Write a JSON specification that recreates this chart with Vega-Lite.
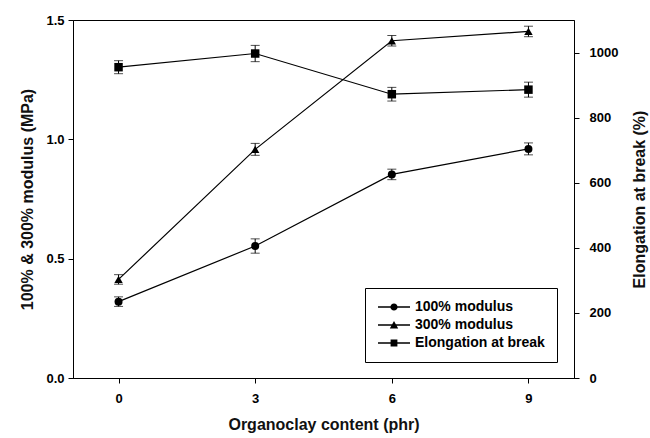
{
  "$schema": "https://vega.github.io/schema/vega-lite/v6.json",
  "width": 501,
  "height": 358,
  "autosize": {"type": "none"},
  "padding": {"left": 73, "top": 20, "right": 76, "bottom": 60},
  "background": "white",
  "datasets": {
    "modulus": [
      {"x": 0, "series": "100% modulus", "v": 0.32, "err": 0.02},
      {"x": 3, "series": "100% modulus", "v": 0.553, "err": 0.03},
      {"x": 6, "series": "100% modulus", "v": 0.853, "err": 0.022},
      {"x": 9, "series": "100% modulus", "v": 0.96, "err": 0.025},
      {"x": 0, "series": "300% modulus", "v": 0.413, "err": 0.02},
      {"x": 3, "series": "300% modulus", "v": 0.958, "err": 0.025},
      {"x": 6, "series": "300% modulus", "v": 1.413, "err": 0.022},
      {"x": 9, "series": "300% modulus", "v": 1.452, "err": 0.022}
    ],
    "elong": [
      {"x": 0, "series": "Elongation at break", "v": 955, "err": 20},
      {"x": 3, "series": "Elongation at break", "v": 997, "err": 25},
      {"x": 6, "series": "Elongation at break", "v": 872, "err": 21},
      {"x": 9, "series": "Elongation at break", "v": 886, "err": 23}
    ]
  },
  "config": {
    "font": "Liberation Sans",
    "view": {"stroke": "black", "strokeWidth": 1},
    "axis": {
      "grid": false,
      "domainColor": "black",
      "tickColor": "black",
      "tickSize": 5,
      "labelFont": "Liberation Sans",
      "labelFontSize": 13,
      "labelFontWeight": "bold",
      "labelColor": "black",
      "titleFont": "Liberation Sans",
      "titleFontSize": 16,
      "titleFontWeight": "bold",
      "titleColor": "#111"
    }
  },
  "encoding": {
    "x": {
      "field": "x",
      "type": "quantitative",
      "scale": {"domain": [-1, 10], "nice": false, "zero": false},
      "axis": {"values": [0, 3, 6, 9], "title": "Organoclay content (phr)", "labelPadding": 9, "titlePadding": 11}
    }
  },
  "layer": [
    {
      "data": {"name": "modulus"},
      "layer": [
        {
          "mark": {"type": "line", "color": "black", "strokeWidth": 1.2},
          "encoding": {
            "y": {"field": "v", "type": "quantitative", "scale": {"domain": [0, 1.5], "nice": false}, "axis": {"values": [0, 0.5, 1, 1.5], "format": ".1f", "title": "100% & 300% modulus (MPa)", "labelPadding": 4, "titlePadding": 10}},
            "detail": {"field": "series"}
          }
        },
        {
          "mark": {"type": "errorbar", "color": "black", "thickness": 1, "ticks": {"size": 9, "color": "black"}},
          "encoding": {
            "y": {"field": "v", "type": "quantitative", "title": "100% & 300% modulus (MPa)"},
            "yError": {"field": "err"}
          }
        },
        {
          "transform": [{"filter": "datum.series === '100% modulus'"}],
          "mark": {"type": "point", "shape": "circle", "filled": true, "color": "black", "opacity": 1, "size": 64},
          "encoding": {"y": {"field": "v", "type": "quantitative"}}
        },
        {
          "transform": [{"filter": "datum.series === '300% modulus'"}],
          "mark": {"type": "point", "shape": "triangle-up", "filled": true, "color": "black", "opacity": 1, "size": 70},
          "encoding": {"y": {"field": "v", "type": "quantitative"}}
        },
        {
          "mark": {"type": "point", "filled": true, "color": "black", "opacity": 0, "size": 64},
          "encoding": {
            "y": {"field": "v", "type": "quantitative"},
            "shape": {
              "field": "series",
              "type": "nominal",
              "scale": {
                "domain": ["100% modulus", "300% modulus", "Elongation at break"],
                "range": [
                  "M-4,-0.18H4V0.18H-4ZM0.9,0A0.9,0.9,0,1,1,-0.9,0A0.9,0.9,0,1,1,0.9,0Z",
                  "M-4,-0.18H4V0.18H-4ZM0,-1L1.05,0.85L-1.05,0.85Z",
                  "M-4,-0.18H4V0.18H-4ZM-0.85,-0.85H0.85V0.85H-0.85Z"
                ]
              },
              "legend": {
                "title": null,
                "orient": "none",
                "legendX": 292,
                "legendY": 268,
                "padding": 12,
                "strokeColor": "black",
                "fillColor": "white",
                "symbolSize": 64,
                "symbolOffset": 10,
                "labelOffset": 14,
                "rowPadding": 4,
                "symbolOpacity": 1,
                "symbolFillColor": "black",
                "labelFont": "Liberation Sans",
                "labelFontSize": 14,
                "labelFontWeight": "bold",
                "labelColor": "black",
                "encode": {
                  "symbols": {
                    "opacity": {"value": 1},
                    "fill": {"value": "black"}
                  }
                }
              }
            }
          }
        }
      ]
    },
    {
      "data": {"name": "elong"},
      "layer": [
        {
          "mark": {"type": "line", "color": "black", "strokeWidth": 1.2},
          "encoding": {
            "y": {"field": "v", "type": "quantitative", "scale": {"domain": [0, 1100], "nice": false}, "axis": {"values": [0, 200, 400, 600, 800, 1000], "format": "d", "title": "Elongation at break (%)", "titleAngle": -90, "labelPadding": 10, "titlePadding": 30}}
          }
        },
        {
          "mark": {"type": "errorbar", "color": "black", "thickness": 1, "ticks": {"size": 9, "color": "black"}},
          "encoding": {
            "y": {"field": "v", "type": "quantitative", "title": "Elongation at break (%)"},
            "yError": {"field": "err"}
          }
        },
        {
          "mark": {"type": "point", "shape": "square", "filled": true, "color": "black", "opacity": 1, "size": 72},
          "encoding": {"y": {"field": "v", "type": "quantitative"}}
        }
      ]
    }
  ],
  "resolve": {"scale": {"y": "independent"}}
}
